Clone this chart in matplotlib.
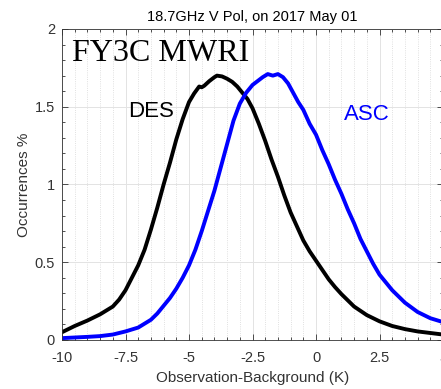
import matplotlib
matplotlib.use("Agg")
import matplotlib.pyplot as plt
from matplotlib.ticker import MultipleLocator

# O-B departure histograms (percent of occurrences)
des_x = [-10, -9.5, -9, -8.5, -8, -7.75, -7.5, -7.25, -7, -6.75, -6.5, -6.25, -6, -5.75, -5.5,
         -5.25, -5, -4.8, -4.6, -4.5, -4.4, -4.2, -4, -3.9, -3.7, -3.5, -3.3, -3.1, -2.9,
         -2.7, -2.5, -2.25, -2, -1.75, -1.5, -1.25, -1, -0.75, -0.5, -0.25, 0, 0.25, 0.5,
         0.75, 1, 1.5, 2, 2.5, 3, 3.5, 4, 4.5, 5]
des_y = [0.05, 0.09, 0.125, 0.165, 0.215, 0.26, 0.32, 0.40, 0.48, 0.58, 0.71, 0.85, 1.00, 1.14,
         1.29, 1.42, 1.53, 1.585, 1.63, 1.625, 1.635, 1.665, 1.69, 1.70, 1.695, 1.68, 1.66,
         1.63, 1.59, 1.55, 1.49, 1.39, 1.28, 1.16, 1.05, 0.93, 0.82, 0.73, 0.64, 0.57, 0.51,
         0.45, 0.39, 0.34, 0.295, 0.215, 0.16, 0.12, 0.09, 0.07, 0.055, 0.045, 0.035]

asc_x = [-10, -9, -8.5, -8, -7.5, -7, -6.5, -6.25, -6, -5.75, -5.5, -5.25, -5, -4.75, -4.5,
         -4.25, -4, -3.75, -3.5, -3.25, -3, -2.75, -2.5, -2.3, -2.1, -1.9, -1.7, -1.5, -1.3,
         -1.1, -0.9, -0.7, -0.5, -0.25, 0, 0.25, 0.5, 0.75, 1, 1.25, 1.5, 1.75, 2, 2.25,
         2.5, 2.75, 3, 3.25, 3.5, 4, 4.5, 5]
asc_y = [0.012, 0.02, 0.025, 0.035, 0.055, 0.08, 0.13, 0.17, 0.22, 0.27, 0.33, 0.40, 0.48,
         0.58, 0.70, 0.83, 0.96, 1.11, 1.26, 1.41, 1.52, 1.59, 1.64, 1.665, 1.69, 1.71, 1.70,
         1.71, 1.69, 1.65, 1.59, 1.53, 1.48, 1.39, 1.32, 1.22, 1.13, 1.03, 0.94, 0.84, 0.75,
         0.65, 0.57, 0.49, 0.42, 0.37, 0.32, 0.28, 0.24, 0.18, 0.14, 0.115]

xticks = [-10, -7.5, -5, -2.5, 0, 2.5, 5]
xtick_labels = ["-10", "-7.5", "-5", "-2.5", "0", "2.5", "5"]
yticks = [0, 0.5, 1, 1.5, 2]
ytick_labels = ["0", "0.5", "1", "1.5", "2"]

plt.rcParams['font.family'] = ['Liberation Sans', 'DejaVu Sans']
grey = "#333333"

fig = plt.figure(figsize=(4.41, 3.89), dpi=100)
ax = fig.add_axes([0.1406, 0.126, 0.864, 0.7995])

ax.plot(des_x, des_y, color="black", lw=2.8, solid_joinstyle="round")
ax.plot(asc_x, asc_y, color="#0000ff", lw=2.8, solid_joinstyle="round")

ax.set_xlim(-10, 5)
ax.set_ylim(0, 2)
ax.set_xticks(xticks)
ax.set_xticklabels(xtick_labels)
ax.set_yticks(yticks)
ax.set_yticklabels(ytick_labels)
ax.xaxis.set_minor_locator(MultipleLocator(0.5))
ax.yaxis.set_minor_locator(MultipleLocator(0.1))
ax.tick_params(which="both", direction="in", top=True, right=True, colors=grey,
               labelsize=10.5, width=0.6)
ax.tick_params(which="major", length=4)
ax.tick_params(which="minor", length=2.5)
ax.tick_params(axis="x", pad=8)
ax.tick_params(axis="y", pad=5)

ax.grid(which="major", color="#e3e3e3", lw=0.7, ls="-")
ax.grid(which="minor", axis="x", color="#d6d6d6", lw=0.6, ls=":")
ax.set_axisbelow(True)
for s in ax.spines.values():
    s.set_color(grey)
    s.set_linewidth(0.6)

ax.set_title("18.7GHz V Pol, on 2017 May 01", fontsize=10.5, color="black", pad=6)
ax.set_xlabel("Observation-Background (K)", fontsize=11, color=grey, labelpad=4)
ax.set_ylabel("Occurrences %", fontsize=11, color=grey, labelpad=3)

ax.text(-9.6, 1.935, "FY3C MWRI", family=["Liberation Serif", "DejaVu Serif"],
        fontsize=23, va="top", ha="left", color="black")
ax.text(-6.5, 1.47, "DES", fontsize=16, color="black", ha="center", va="center")
ax.text(2.0, 1.45, "ASC", fontsize=16, color="#0000ff", ha="center", va="center")

fig.savefig("out.png", dpi=100)
